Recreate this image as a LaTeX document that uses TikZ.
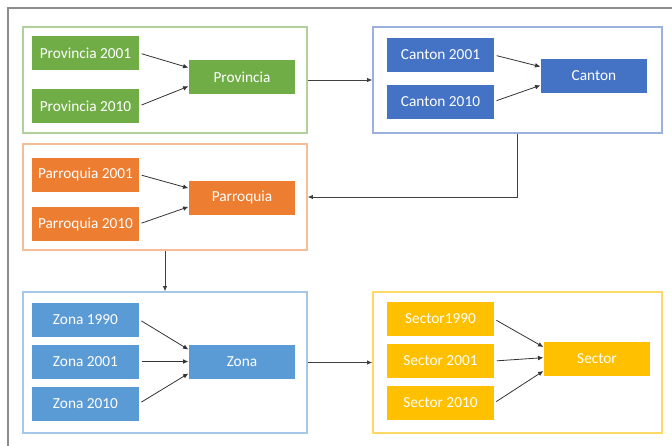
\documentclass[tikz,border=0pt]{standalone}
\usepackage{fontspec}
\setsansfont{Carlito}
\usepackage{tikz}
\usetikzlibrary{arrows.meta,positioning,calc}

\definecolor{provgreen}{HTML}{70AD47}
\definecolor{cantblue}{HTML}{4472C4}
\definecolor{parrorange}{HTML}{ED7D31}
\definecolor{zonablue}{HTML}{5B9BD5}
\definecolor{sectgold}{HTML}{FFC000}

\begin{document}
\begin{tikzpicture}[x=0.75pt,y=-0.75pt,
  yearbox/.style={fill=#1,text=white,minimum width=80pt,minimum height=25.5pt,inner sep=0pt,
    font=\sffamily\fontsize{11.5}{13}\selectfont},
  unitbox/.style={yearbox=#1},
  panel/.style={draw=#1,line width=0.9pt,inner sep=0pt},
  edge/.style={-{Latex[length=4pt,width=3.5pt]},black!80,line width=0.6pt},
  link/.style={-{Latex[length=4pt,width=3.5pt]},black!75,line width=0.7pt}
]
\useasboundingbox (0,0) rectangle (672,446);
\draw[black!45,line width=1.1pt] (8,446)--(8,8)--(672,8);

% containers
\node[panel=provgreen!55,minimum width=213pt,minimum height=79.5pt] (provpanel) at (165,80) {};
\node[panel=cantblue!55,minimum width=216.75pt,minimum height=79.5pt] (cantpanel) at (517.5,80) {};
\node[panel=parrorange!50,minimum width=213pt,minimum height=79.5pt] (parrpanel) at (165,197) {};
\node[panel=zonablue!55,minimum width=213pt,minimum height=105.75pt] (zonapanel) at (165,362.5) {};
\node[panel=sectgold!60,minimum width=216.75pt,minimum height=105.75pt] (sectpanel) at (517.5,362.5) {};

% provincia
\node[yearbox=provgreen] (prov01) at (85.5,53) {Provincia 2001};
\node[yearbox=provgreen] (prov10) at (85.5,106) {Provincia 2010};
\node[unitbox=provgreen] (prov) at (242,77) {Provincia};
\draw[edge,shorten <=2pt] (prov01.east)--([yshift=7pt]prov.west);
\draw[edge,shorten <=2pt] (prov10.east)--([yshift=-7pt]prov.west);

% canton
\node[yearbox=cantblue] (cant01) at (440.5,55) {Canton 2001};
\node[yearbox=cantblue] (cant10) at (440.5,101.5) {Canton 2010};
\node[unitbox=cantblue] (cant) at (594,76) {Canton};
\draw[edge,shorten <=2pt] (cant01.east)--([yshift=7pt]cant.west);
\draw[edge,shorten <=2pt] (cant10.east)--([yshift=-7pt]cant.west);

% parroquia
\node[yearbox=parrorange] (parr01) at (85.5,174.5) {Parroquia 2001};
\node[yearbox=parrorange] (parr10) at (85.5,224) {Parroquia 2010};
\node[unitbox=parrorange] (parr) at (242,197.5) {Parroquia};
\draw[edge,shorten <=2pt] (parr01.east)--([yshift=7pt]parr.west);
\draw[edge,shorten <=2pt] (parr10.east)--([yshift=-7pt]parr.west);

% zona
\node[yearbox=zonablue] (zona90) at (85.5,319.5) {Zona 1990};
\node[yearbox=zonablue] (zona01) at (85.5,361.5) {Zona 2001};
\node[yearbox=zonablue] (zona10) at (85.5,403.5) {Zona 2010};
\node[unitbox=zonablue] (zona) at (242,361.5) {Zona};
\draw[edge,shorten <=2pt] (zona90.east)--([yshift=9pt]zona.west);
\draw[edge,shorten <=2pt] (zona01.east)--(zona.west);
\draw[edge,shorten <=2pt] (zona10.east)--([yshift=-9pt]zona.west);

% sector
\node[yearbox=sectgold] (sect90) at (440.5,319) {Sector1990};
\node[yearbox=sectgold] (sect01) at (440.5,361) {Sector 2001};
\node[yearbox=sectgold] (sect10) at (440.5,403) {Sector 2010};
\node[unitbox=sectgold] (sect) at (597,359) {Sector};
\draw[edge,shorten <=2pt] (sect90.east)--([yshift=9pt]sect.west);
\draw[edge,shorten <=2pt] (sect01.east)--([yshift=1pt]sect.west);
\draw[edge,shorten <=2pt] (sect10.east)--([yshift=-9pt]sect.west);

% between levels
\draw[link] (provpanel.east)--(cantpanel.west);
\draw[link] (cantpanel.south)|-(parrpanel.east);
\draw[link] (parrpanel.south)--(zonapanel.north);
\draw[link] (zonapanel.east)--(sectpanel.west);
\end{tikzpicture}
\end{document}
